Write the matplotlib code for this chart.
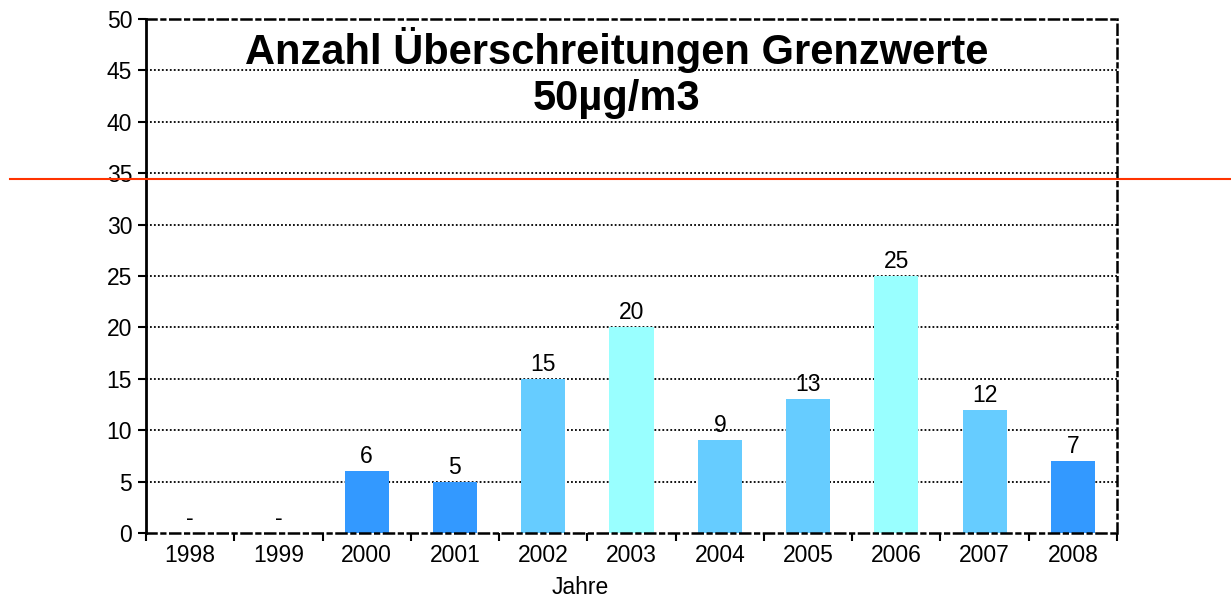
import matplotlib
matplotlib.use('Agg')
import matplotlib.pyplot as plt
import numpy as np

years = ['1998', '1999', '2000', '2001', '2002', '2003', '2004', '2005', '2006', '2007', '2008']
counts = [0, 0, 6, 5, 15, 20, 9, 13, 25, 12, 7]
labels = ['-', '-', '6', '5', '15', '20', '9', '13', '25', '12', '7']
colors = ['#3399ff', '#3399ff', '#3399ff', '#3399ff', '#66ccff', '#99ffff',
          '#66ccff', '#66ccff', '#99ffff', '#66ccff', '#3399ff']
limit = 34.4

plt.rcParams['font.family'] = ['Liberation Sans', 'DejaVu Sans']

fig = plt.figure(figsize=(12.31, 6.02), dpi=100)
ax = fig.add_axes([0.1186, 0.1146, 0.7888, 0.8538])

x = np.arange(len(years))
ax.bar(x, counts, width=0.5, color=colors, edgecolor='none', zorder=3)
for xi, c, lab in zip(x, counts, labels):
    ax.text(xi, c + 0.3, lab, ha='center', va='bottom', fontsize=16.5, zorder=4)

ax.set_xlim(-0.5, len(years) - 0.5)
ax.set_ylim(0, 50)
ax.set_yticks(range(0, 51, 5))
ax.set_xticks(x)
ax.set_xticklabels(years)
ax.set_xticks(np.arange(-0.5, len(years)), minor=True)
ax.tick_params(axis='x', which='major', length=0, labelsize=16.5, pad=8)
ax.tick_params(axis='x', which='minor', length=6, width=1.5, direction='out')
ax.tick_params(axis='y', length=6, width=1.5, labelsize=16.5, pad=4)

for yv in range(5, 50, 5):
    ax.axhline(yv, color='black', linestyle=(0, (1, 1.2)), linewidth=1.3, zorder=1)

ax.spines['left'].set_linewidth(2)
for side in ['top', 'right', 'bottom']:
    ax.spines[side].set_linestyle((0, (4, 2, 1.5, 2)))
    ax.spines[side].set_linewidth(1.8)
ax.spines['bottom'].set_zorder(5)

ax.set_xlabel('Jahre', fontsize=16.5)
ax.xaxis.set_label_coords(0.447, -0.083)

ax.text(0.485, 0.985, 'Anzahl Überschreitungen Grenzwerte\n50µg/m3', transform=ax.transAxes,
        ha='center', va='top', fontsize=30, fontweight='bold', linespacing=1.2)

# threshold line across the whole picture
ax.axhline(limit, xmin=-(146 - 10) / 971, xmax=(1231 - 146) / 971, color='#ff3300',
           linewidth=1.5, clip_on=False, zorder=6)

fig.savefig('out.png', dpi=100)
